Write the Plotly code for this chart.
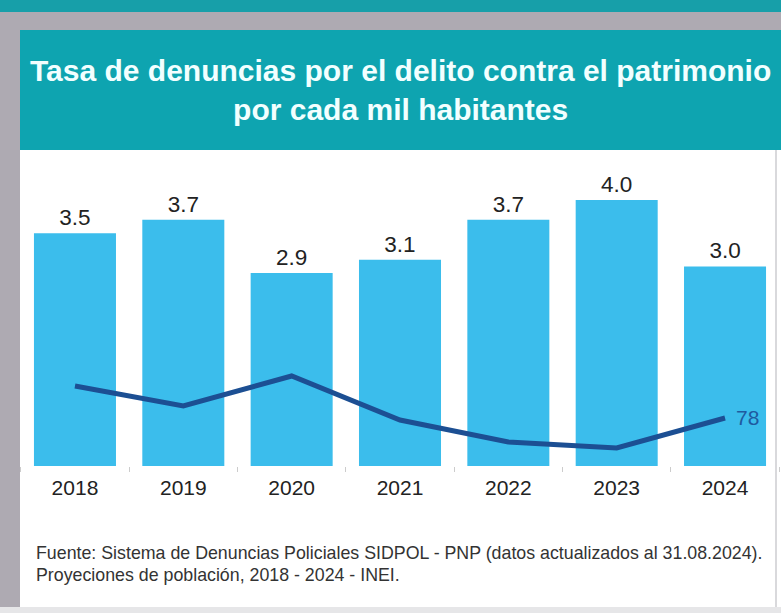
import plotly.graph_objects as go

years = ["2018", "2019", "2020", "2021", "2022", "2023", "2024"]
tasa = [3.5, 3.7, 2.9, 3.1, 3.7, 4.0, 3.0]
tasa_labels = ["3.5", "3.7", "2.9", "3.1", "3.7", "4.0", "3.0"]
linea = [94, 84, 99, 77, 66, 63, 78]
linea_last_label = "78"

title_text = "Tasa de denuncias por el delito contra el patrimonio<br>por cada mil habitantes"
source_1 = "Fuente: Sistema de Denuncias Policiales SIDPOL - PNP (datos actualizados al 31.08.2024)."
source_2 = "Proyeciones de población, 2018 - 2024 - INEI."

W, H = 781, 613
FONT = "Liberation Sans, Arial, sans-serif"
LINE_COLOR = "#1c4f93"

def px(x):
    return x / W

def py(y):
    return 1 - y / H

fig = go.Figure()
fig.add_trace(go.Bar(
    x=years, y=tasa, text=tasa_labels, textposition="outside",
    textfont=dict(size=22.5, color="#222222", family=FONT),
    marker=dict(color="#3bbdec", line=dict(width=0)),
    cliponaxis=False, showlegend=False, hoverinfo="skip",
))
fig.add_trace(go.Scatter(
    x=years, y=linea, yaxis="y2", mode="lines",
    line=dict(color=LINE_COLOR, width=5, shape="linear"),
    cliponaxis=False, showlegend=False, hoverinfo="skip",
))

shapes = [
    dict(type="rect", xref="paper", yref="paper", x0=0, x1=1, y0=py(12), y1=1,
         fillcolor="#179fa9", line=dict(width=0), layer="below"),
    dict(type="rect", xref="paper", yref="paper", x0=0, x1=1, y0=py(30), y1=py(12),
         fillcolor="#aeaab2", line=dict(width=0), layer="below"),
    dict(type="rect", xref="paper", yref="paper", x0=0, x1=px(20), y0=py(607), y1=py(30),
         fillcolor="#aeaab2", line=dict(width=0), layer="below"),
    dict(type="rect", xref="paper", yref="paper", x0=px(20), x1=1, y0=py(150), y1=py(30),
         fillcolor="#0ea4b0", line=dict(width=0), layer="below"),
    dict(type="rect", xref="paper", yref="paper", x0=px(775), x1=px(777), y0=py(607), y1=py(150),
         fillcolor="#d9d9dc", line=dict(width=0), layer="below"),
    dict(type="rect", xref="paper", yref="paper", x0=0, x1=1, y0=0, y1=py(607),
         fillcolor="#e6e6e8", line=dict(width=0), layer="below"),
]

annotations = [
    dict(text="<b>" + title_text + "</b>", xref="paper", yref="paper",
         x=px(400), y=py(90), xanchor="center", yanchor="middle", showarrow=False,
         font=dict(size=30, color="#f2ffff", family=FONT), align="center"),
    dict(text=source_1, xref="paper", yref="paper", x=px(34), y=py(553),
         xanchor="left", yanchor="middle", showarrow=False,
         font=dict(size=17.8, color="#333333", family=FONT)),
    dict(text=source_2, xref="paper", yref="paper", x=px(34), y=py(575),
         xanchor="left", yanchor="middle", showarrow=False,
         font=dict(size=17.8, color="#333333", family=FONT)),
    dict(text=linea_last_label, xref="x", yref="y2", x=len(years) - 1, y=linea[-1],
         xanchor="left", yanchor="middle", xshift=9, yshift=1, showarrow=False,
         font=dict(size=21, color="#1f5aa0", family=FONT)),
]

fig.update_layout(
    width=W, height=H, margin=dict(l=0, r=0, t=0, b=0),
    paper_bgcolor="white", plot_bgcolor="rgba(0,0,0,0)",
    bargap=0.243, shapes=shapes, annotations=annotations,
    font=dict(family=FONT),
    xaxis=dict(type="category", categoryorder="array", categoryarray=years,
               range=[-0.5, len(years) - 0.5],
               domain=[px(20.8), px(779.2)], showgrid=False,
               zeroline=False, automargin=False, tickangle=0,
               showline=False, ticks="outside", tickson="boundaries", ticklen=5,
               tickcolor="#cccccc", tickwidth=1, ticklabelstandoff=7,
               tickfont=dict(size=21, color="#222222", family=FONT)),
    yaxis=dict(domain=[py(466), py(160)], range=[0, 4.6], visible=False),
    yaxis2=dict(domain=[py(466), py(160)], overlaying="y", range=[54, 207], visible=False),
)

fig.write_html("out.html", config={"displayModeBar": False},
               post_script="document.body.style.margin='0';document.body.style.overflow='hidden';")
